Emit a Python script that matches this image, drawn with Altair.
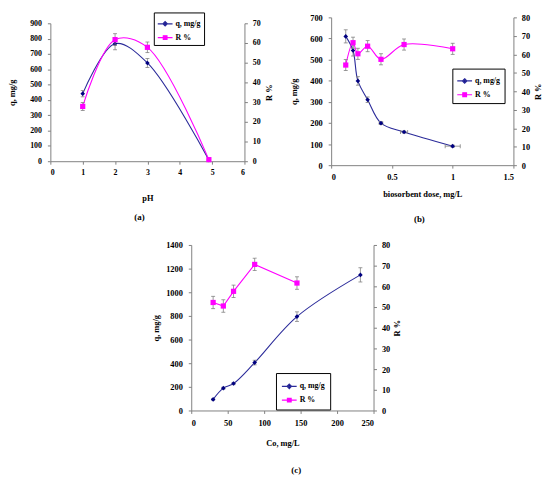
import altair as alt
import pandas as pd

# ---------------- data ----------------
# (a) effect of pH
ph = [1, 2, 3, 4.9]
ph_q = [441, 767, 641, 8]
ph_q_err = [21, 40, 30, 0]
ph_r = [27.8, 61.7, 57.8, 0.8]
ph_r_err = [2, 3, 2.7, 0]

# (b) effect of biosorbent dose
dose = [0.12, 0.18, 0.22, 0.30, 0.41, 0.60, 1.0]
dose_q = [610, 543, 399, 310, 199, 157, 90]
dose_q_err = [31, 26, 20, 13, 6, 5, 5]
dose_x_err = [0, 0, 0, 0, 0.015, 0.03, 0.062]
dose_r = [54.2, 66.3, 60.3, 64.4, 57.3, 65.3, 63.0]
dose_r_err = [3, 3, 3, 3, 3, 3, 3]

# (c) effect of initial concentration
co = [30, 44, 58, 87, 145, 232]
co_q = [94, 189, 228, 405, 794, 1147]
co_q_err = [5, 8, 10, 20, 40, 60]
co_r_x = [30, 44, 58, 87, 145]
co_r = [52.2, 50.5, 57.6, 70.6, 61.6]
co_r_err = [3, 3, 3, 3, 3]

Q_NAME = "q, mg/g"
R_NAME = "R %"

FONT = "Liberation Serif"
NAVY = "#000080"
QLINE = "#2b2b9a"
MAG = "#ff00ff"
GRAY = "#808080"

# legend symbols: a short line with the series marker in the middle
SYM_Q = "M-1,0L1,0M0,-0.3L0.3,0L0,0.3L-0.3,0Z"
SYM_R = "M-1,0L1,0M-0.25,-0.25L0.25,-0.25L0.25,0.25L-0.25,0.25Z"


def make_df(x, v, e, xe=None):
    df = pd.DataFrame({"x": x, "v": v, "e": e})
    df["lo"] = df["v"] - df["e"]
    df["hi"] = df["v"] + df["e"]
    df["xe"] = xe if xe is not None else [0] * len(x)
    df["xlo"] = df["x"] - df["xe"]
    df["xhi"] = df["x"] + df["xe"]
    return df


def series_layers(df, xscale, xaxis, xtitle, yscale, yaxis, ytitle,
                  color_line, color_pt, shape, size, interp):
    base = alt.Chart(df)
    xenc = alt.X("x:Q", scale=xscale, axis=xaxis, title=xtitle)
    yenc = alt.Y("v:Q", scale=yscale, axis=yaxis, title=ytitle)
    line = base.mark_line(color=color_line, strokeWidth=1.1, interpolate=interp).encode(x=xenc, y=yenc)
    eb = base.transform_filter("datum.e > 0")
    rule = eb.mark_rule(color=GRAY, strokeWidth=0.8).encode(
        x=xenc, y=alt.Y("lo:Q", scale=yscale, axis=yaxis, title=ytitle), y2="hi:Q")
    cap_lo = eb.mark_tick(orient="horizontal", size=4, thickness=0.8, color=GRAY, opacity=1).encode(
        x=xenc, y=alt.Y("lo:Q", scale=yscale, axis=yaxis, title=ytitle))
    cap_hi = eb.mark_tick(orient="horizontal", size=4, thickness=0.8, color=GRAY, opacity=1).encode(
        x=xenc, y=alt.Y("hi:Q", scale=yscale, axis=yaxis, title=ytitle))
    layers = [line, rule, cap_lo, cap_hi]
    if df["xe"].max() > 0:
        hb = base.transform_filter("datum.xe > 0")
        hrule = hb.mark_rule(color=GRAY, strokeWidth=0.8).encode(
            x=alt.X("xlo:Q", scale=xscale, axis=xaxis, title=xtitle), x2="xhi:Q", y=yenc)
        hcap_lo = hb.mark_tick(orient="vertical", size=4, thickness=0.8, color=GRAY, opacity=1).encode(
            x=alt.X("xlo:Q", scale=xscale, axis=xaxis, title=xtitle), y=yenc)
        hcap_hi = hb.mark_tick(orient="vertical", size=4, thickness=0.8, color=GRAY, opacity=1).encode(
            x=alt.X("xhi:Q", scale=xscale, axis=xaxis, title=xtitle), y=yenc)
        layers += [hrule, hcap_lo, hcap_hi]
    pts = base.mark_point(filled=True, shape=shape, size=size, opacity=1, strokeWidth=0,
                          color=color_pt).encode(x=xenc, y=yenc)
    layers.append(pts)
    return layers


def panel(dfq, dfr, xdom, xvals, xfmt, qdom, qvals, rdom, rvals, w, h, top_gap, xtitle, caption,
          leg_x, leg_y, leg_pad, q_interp, r_interp, lab_size, x_tpad, x_lpad,
          q_tpad, r_tpad, cap_offset, cap_dx):
    xscale = alt.Scale(domain=xdom, nice=False, zero=False)
    xaxis = alt.Axis(values=xvals, format=xfmt, labelFontSize=lab_size, titlePadding=x_tpad,
                     labelPadding=x_lpad, tickSize=3)
    qscale = alt.Scale(domain=qdom, nice=False, range=[h, top_gap])
    qaxis = alt.Axis(values=qvals, format="d", labelFontSize=lab_size, titlePadding=q_tpad,
                     labelPadding=6, tickSize=3, orient="left")
    rscale = alt.Scale(domain=rdom, nice=False, range=[h, top_gap])
    raxis = alt.Axis(values=rvals, format="d", labelFontSize=lab_size, titlePadding=r_tpad,
                     labelPadding=5, tickSize=3, orient="right", titleAngle=270,
                     titleBaseline="top")
    legend = alt.Legend(orient="none", legendX=leg_x, legendY=leg_y, title=None,
                        strokeColor="#000000", fillColor="white", padding=leg_pad,
                        labelFont=FONT, labelFontWeight="bold", labelFontSize=8,
                        symbolSize=225, rowPadding=0, labelOffset=2, symbolStrokeWidth=1.2)
    domain = [Q_NAME, R_NAME]
    # legend carrier: no marks drawn, only the legend from explicit scale domains
    carrier = alt.Chart(dfq).transform_filter("false").transform_calculate(
        series="'" + Q_NAME + "'"
    ).mark_point(filled=False, opacity=1).encode(
        x=alt.X("x:Q", scale=xscale, axis=xaxis, title=xtitle),
        y=alt.Y("v:Q", scale=qscale, axis=qaxis, title=Q_NAME),
        color=alt.Color("series:N", scale=alt.Scale(domain=domain, range=[QLINE, MAG]), legend=legend),
        fill=alt.Fill("series:N", scale=alt.Scale(domain=domain, range=[NAVY, MAG]), legend=legend),
        shape=alt.Shape("series:N", scale=alt.Scale(domain=domain, range=[SYM_Q, SYM_R]), legend=legend),
    )
    left = series_layers(dfq, xscale, xaxis, xtitle, qscale, qaxis, Q_NAME,
                         QLINE, NAVY, "diamond", 22, q_interp)
    right = series_layers(dfr, xscale, xaxis, xtitle, rscale, raxis, R_NAME,
                          MAG, MAG, "square", 28, r_interp)
    return alt.layer(alt.layer(*left, carrier), alt.layer(*right)).resolve_scale(y="independent").properties(
        width=w, height=h,
        title=alt.TitleParams(caption, orient="bottom", offset=cap_offset, font=FONT,
                              fontSize=9, fontWeight="bold", anchor="middle", dx=cap_dx),
    )


pa = panel(make_df(ph, ph_q, ph_q_err), make_df(ph, ph_r, ph_r_err),
           [0, 6], [0, 1, 2, 3, 4, 5, 6], "d",
           [0, 900], list(range(0, 901, 100)), [0, 70], list(range(0, 71, 10)),
           197, 146, 6, "pH", "(a)", 105, -5, 3, "catmull-rom", "catmull-rom",
           8, 18, 4, 13, 4, 11, -8)

pb = panel(make_df(dose, dose_q, dose_q_err, dose_x_err), make_df(dose, dose_r, dose_r_err),
           [0, 1.5], [0, 0.5, 1, 1.5], ".1~f",
           [0, 700], list(range(0, 701, 100)), [0, 80], list(range(0, 81, 10)),
           185, 150, 0, "biosorbent dose, mg/L", "(b)", 123, 52, 4, "catmull-rom", "catmull-rom",
           8.5, 8, 5, 11, 4, 18, -3)

pc = panel(make_df(co, co_q, co_q_err), make_df(co_r_x, co_r, co_r_err),
           [0, 250], [0, 50, 100, 150, 200, 250], "d",
           [0, 1400], list(range(0, 1401, 200)), [0, 80], list(range(0, 81, 10)),
           185, 168, 0, "Co, mg/L", "(c)", 86, 130, 5, "catmull-rom", "linear",
           8.5, 12, 5, 5, 3, 19, 14)

top = alt.hconcat(pa, pb, spacing=17).resolve_scale(
    color="independent", fill="independent", shape="independent"
).resolve_legend(color="independent", fill="independent", shape="independent")
chart = alt.vconcat(top, pc, spacing=17, center=True).resolve_scale(
    color="independent", fill="independent", shape="independent"
).resolve_legend(color="independent", fill="independent", shape="independent").properties(
    padding={"left": 0, "top": 0, "right": 0, "bottom": 0},
    background="white",
).configure_view(stroke=None).configure_axis(
    grid=False, domainColor=GRAY, tickColor=GRAY, domainWidth=1,
    labelFont=FONT, labelFontWeight="bold", labelColor="#000000",
    titleFont=FONT, titleFontWeight="bold", titleFontSize=8.5, titleColor="#000000",
)

chart.save("out.html", embed_options={"renderer": "svg", "actions": False})
